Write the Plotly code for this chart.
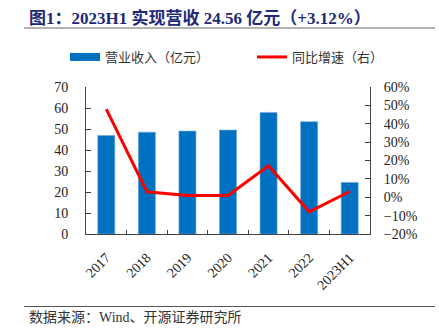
import plotly.graph_objects as go

categories = ["2017", "2018", "2019", "2020", "2021", "2022", "2023H1"]
revenue = [46.9, 48.5, 49.0, 49.5, 57.9, 53.5, 24.56]
growth = [0.48, 0.03, 0.01, 0.01, 0.171, -0.079, 0.0312]
left_ticks = [0, 10, 20, 30, 40, 50, 60, 70]
right_ticks = [-0.2, -0.1, 0, 0.1, 0.2, 0.3, 0.4, 0.5, 0.6]

SERIF = "Liberation Serif, Noto Sans CJK SC"
BLUE = "#0070C0"
RED = "#FF0000"
AX = "#404040"

fig = go.Figure()
fig.add_trace(go.Bar(x=categories, y=revenue, marker=dict(color=BLUE, line=dict(color="#6FA8DC", width=0.6)),
                     width=0.42, showlegend=False, yaxis="y"))
fig.add_trace(go.Scatter(x=categories, y=growth, mode="lines", line=dict(color=RED, width=3),
                         showlegend=False, yaxis="y2"))
# legend entries
fig.add_trace(go.Scatter(x=[None], y=[None], mode="lines", line=dict(color=BLUE, width=8),
                         name="营业收入（亿元）", yaxis="y"))
fig.add_trace(go.Scatter(x=[None], y=[None], mode="lines", line=dict(color=RED, width=3),
                         name="同比增速（右）", yaxis="y2"))

fig.update_layout(
    width=439, height=329, autosize=False,
    margin=dict(l=86, r=69, t=87, b=95),
    paper_bgcolor="white", plot_bgcolor="white",
    showlegend=True,
    legend=dict(orientation="h", xref="paper", yref="paper", x=(69-86)/284, y=1+(87-57)/147,
                xanchor="left", yanchor="middle", font=dict(family="Noto Sans CJK SC", size=13, color="#333"),
                entrywidth=142, entrywidthmode="pixels", itemwidth=30, bgcolor="rgba(0,0,0,0)"),
    xaxis=dict(type="category", tickangle=-45, tickfont=dict(family=SERIF, size=14, color="#222"),
               showline=True, linecolor=AX, linewidth=1, ticks="inside", ticklen=4, tickcolor=AX,
               tickson="boundaries", showgrid=False, ticklabelstandoff=9),
    yaxis=dict(range=[0, 70], tickvals=left_ticks, tickfont=dict(family=SERIF, size=14, color="#222"),
               showline=True, linecolor=AX, linewidth=1, ticks="inside", ticklen=5, tickcolor=AX,
               showgrid=False, zeroline=False, ticklabelstandoff=14),
    yaxis2=dict(range=[-0.2, 0.6], tickvals=right_ticks, tickformat=".0%", overlaying="y", side="right",
                tickfont=dict(family=SERIF, size=14, color="#222"),
                showline=True, linecolor=AX, linewidth=1, ticks="inside", ticklen=5, tickcolor=AX,
                showgrid=False, zeroline=False, ticklabelstandoff=10),
    shapes=[
        dict(type="line", xref="paper", yref="paper", x0=(24-86)/284, x1=(435-86)/284,
             y0=1+(87-28)/147, y1=1+(87-28)/147, line=dict(color="#999999", width=1.5)),
        dict(type="line", xref="paper", yref="paper", x0=(24-86)/284, x1=(435-86)/284,
             y0=-(306.5-234)/147, y1=-(306.5-234)/147, line=dict(color="#555555", width=1)),
    ],
    annotations=[
        dict(text="<b>图1：2023H1 实现营收 24.56 亿元（+3.12%）</b>", xref="paper", yref="paper",
             x=(27-86)/284, y=1+(87-17.5)/147, xanchor="left", yanchor="middle", showarrow=False,
             font=dict(family=SERIF, size=17, color="#1E2A78")),
        dict(text="数据来源：Wind、开源证券研究所", xref="paper", yref="paper",
             x=(27-86)/284, y=-(317-234)/147, xanchor="left", yanchor="middle", showarrow=False,
             font=dict(family=SERIF, size=14, color="#333333")),
    ],
)

fig.write_html("out.html")
